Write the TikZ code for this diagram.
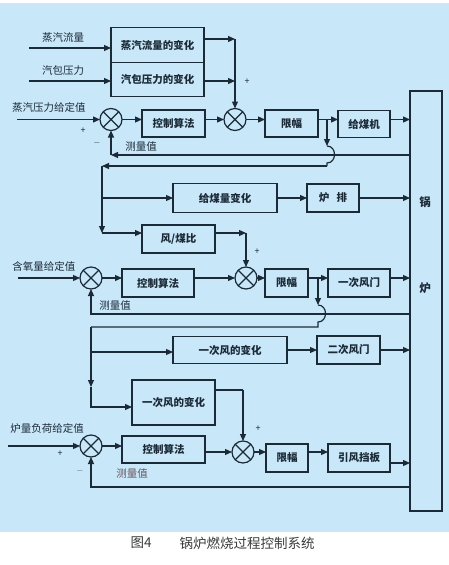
\documentclass[tikz,border=0pt]{standalone}
\usepackage{fontspec}
\setmainfont{Noto Sans CJK SC}
\usetikzlibrary{arrows.meta}
\definecolor{bgblue}{HTML}{C8E8FA}
\definecolor{lnedge}{HTML}{1C2A36}
\definecolor{capgray}{HTML}{3A3A3A}
\definecolor{fadetxt}{HTML}{6A5558}

\begin{document}
\begin{tikzpicture}[x=1pt, y=-1pt,
  blk/.style={rectangle, draw=lnedge, line width=1.2pt, minimum width=#1,
              minimum height=27pt, inner sep=0pt, outer sep=0pt, text=lnedge,
              font=\fontsize{10.5}{12}\selectfont\bfseries},
  sum/.style={circle, draw=lnedge, line width=1.2pt, minimum size=22pt,
              inner sep=0pt, outer sep=0pt,
              path picture={\draw[lnedge, line width=1.1pt]
                (path picture bounding box.north west) -- (path picture bounding box.south east)
                (path picture bounding box.north east) -- (path picture bounding box.south west);}},
  sig/.style={draw=lnedge, line width=1.2pt, -{Triangle[length=7pt, width=6pt]}},
  wire/.style={draw=lnedge, line width=1.2pt},
  lab/.style={font=\fontsize{10.5}{12}\selectfont, text=lnedge, inner sep=0pt},
  sgn/.style={font=\fontsize{9}{10}\selectfont, text=lnedge, inner sep=0pt},
  captext/.style={font=\fontsize{13.5}{15}\selectfont, text=capgray, inner sep=0pt},
]
\useasboundingbox (0,0) rectangle (449,565);
\fill[white] (0,0) rectangle (449,565);
\fill[bgblue] (0,3) rectangle (449,532);
% ---- feedforward boxes (steam flow, drum pressure)
\node[blk=93pt, minimum height=34.5pt] (chg_steam) at (157.5,45) {蒸汽流量的变化};
\node[blk=93pt, minimum height=34.5pt] (chg_drum) at (157.5,79.5) {汽包压力的变化};
\node[lab] (in_steam) at (63,38) {蒸汽流量};
\node[lab] (in_drum) at (63,71) {汽包压力};
\coordinate (s_steam) at (29,48);
\coordinate (s_drum) at (29,81);
\draw[sig] (s_steam) -- (s_steam -| chg_steam.west);
\draw[sig] (s_drum) -- (s_drum -| chg_drum.west);
% ---- loop 1: steam pressure -> coal feeder
\node[lab] (in_p) at (49,108) {蒸汽压力给定值};
\coordinate (s_p) at (17,119.5);
\node[sum] (sum_p) at (111,119.5) {};
\node[blk=63pt] (ctrl_p) at (173.5,123.5) {控制算法};
\node[sum] (sum_f) at (235,119.5) {};
\node[blk=53pt] (lim_f) at (291.5,123.5) {限幅};
\node[blk=52pt] (feeder) at (364,124) {给煤机};
\node[rectangle, draw=lnedge, line width=1.2pt, minimum width=32pt,
      minimum height=420pt, inner sep=0pt, outer sep=0pt] (boiler) at (426,301) {};
\node[lab, font=\fontsize{11.5}{13}\selectfont\bfseries] (boiler_a) at (425,202) {锅};
\node[lab, font=\fontsize{11.5}{13}\selectfont\bfseries] (boiler_b) at (425,288) {炉};
\draw[sig] (s_p) -- (sum_p.west);
\draw[sig] (sum_p.east) -- (sum_p.east -| ctrl_p.west);
\draw[sig] (ctrl_p.east |- sum_f) -- (sum_f.west);
\draw[sig] (sum_f.east) -- (sum_f.east -| lim_f.west);
\draw[sig] (lim_f.east |- sum_f) -- (feeder.west |- sum_f);
\draw[sig] (feeder.east |- sum_f) -- (boiler.west |- sum_f);
\coordinate (m_steam) at (235,39);
\coordinate (m_drum) at (235,81);
\draw[sig] (chg_steam.east |- m_steam) -- (m_steam);
\draw[sig] (chg_drum.east |- m_drum) -- (m_drum);
\draw[sig] (m_steam) -- (sum_f.north);
\node[sgn] (pl_f) at (247,82) {+};
\node[sgn] (pl_p) at (83,131) {+};
\node[sgn] (mi_p) at (97,143) {$-$};
\coordinate (fb_p) at (111,155);
\draw[sig] (boiler.west |- fb_p) -- (fb_p);
\draw[sig] (fb_p) -- (sum_p.south);
\node[lab] (meas_p) at (141,147) {测量值};
% ---- branch of coal feed, jumping the feedback line
\coordinate (br_f) at (327,119.5);
\coordinate (j_fa) at (327,146);
\coordinate (j_fb) at (327,163);
\coordinate (c_fa) at (327,166);
\coordinate (c_fb) at (102,166);
\coordinate (c_fc) at (102,233);
\coordinate (br_coal) at (102,198);
\draw[sig] (br_f) -- (j_fa);
\draw[wire] (j_fa) .. controls (337,146) and (337,163) .. (j_fb) -- (c_fa);
\draw[sig] (c_fa) -- (c_fb);
\draw[sig] (c_fb) -- (c_fc);
\node[blk=104pt, minimum height=29pt] (coal_chg) at (225,198) {给煤量变化};
\node[blk=52pt, minimum height=28pt] (grate) at (333,198) {炉\hspace{0.7em}排};
\node[blk=73pt, minimum height=28pt] (ratio) at (178.5,239) {风/煤比};
\draw[sig] (br_coal) -- (br_coal -| coal_chg.west);
\draw[sig] (coal_chg) -- (grate);
\draw[sig] (grate.east) -- (grate.east -| boiler.west);
\draw[sig] (c_fc) -- (c_fc -| ratio.west);
% ---- loop 2: oxygen -> primary air damper
\node[lab] (in_o2) at (44,266) {含氧量给定值};
\coordinate (s_o2) at (18,278);
\node[sum] (sum_o2) at (91,278) {};
\node[blk=72pt, minimum height=28pt] (ctrl_o2) at (158,283) {控制算法};
\node[sum] (sum_a) at (246,278) {};
\node[blk=43pt, minimum height=28pt] (lim_a) at (286.5,283) {限幅};
\node[blk=62pt, minimum height=28pt] (damper_a) at (359,283) {一次风门};
\coordinate (m_ratio) at (246,233);
\draw[sig] (ratio.east |- m_ratio) -- (m_ratio);
\draw[sig] (m_ratio) -- (sum_a.north);
\node[sgn] (pl_a) at (257,252) {+};
\draw[sig] (s_o2) -- (sum_o2.west);
\draw[sig] (sum_o2.east) -- (sum_o2.east -| ctrl_o2.west);
\draw[sig] (ctrl_o2.east |- sum_a) -- (sum_a.west);
\draw[sig] (sum_a.east) -- (sum_a.east -| lim_a.west);
\draw[sig] (lim_a.east |- sum_a) -- (damper_a.west |- sum_a);
\draw[sig] (damper_a.east |- sum_a) -- (boiler.west |- sum_a);
\coordinate (fb_o2) at (91,314);
\draw[sig] (boiler.west |- fb_o2) -- (fb_o2) -- (sum_o2.south);
\node[lab] (meas_o2) at (115,306) {测量值};
% ---- branch of primary air, jumping the feedback line
\coordinate (br_a) at (318,278);
\coordinate (j_aa) at (318,305);
\coordinate (j_ab) at (318,322);
\coordinate (c_aa) at (318,327);
\coordinate (c_ab) at (91,327);
\coordinate (c_ac) at (91,387);
\coordinate (c_ad) at (91,407);
\coordinate (br_air) at (91,352);
\draw[sig] (br_a) -- (j_aa);
\draw[wire] (j_aa) .. controls (328,305) and (328,322) .. (j_ab) -- (c_aa) -- (c_ab);
\draw[sig] (c_ab) -- (c_ac);
\node[blk=114pt, minimum height=27pt] (air_a) at (230,350) {一次风的变化};
\node[blk=63pt, minimum height=28pt] (sec_air) at (348.5,350) {二次风门};
\node[blk=83pt, minimum height=45pt] (air_b) at (173.5,402.5) {一次风的变化};
\draw[sig] (br_air) -- (br_air -| air_a.west);
\draw[sig] (air_a) -- (sec_air);
\draw[sig] (sec_air.east) -- (sec_air.east -| boiler.west);
\draw[sig] (c_ac) -- (c_ad) -- (c_ad -| air_b.west);
% ---- loop 3: furnace load -> induced draft damper
\node[lab] (in_load) at (47,428) {炉量负荷给定值};
\coordinate (s_load) at (8,446);
\node[sum] (sum_load) at (91,446) {};
\node[blk=83pt] (ctrl_load) at (163.5,449.5) {控制算法};
\node[sum] (sum_l) at (243,452) {};
\node[blk=42pt, minimum height=28pt] (lim_l) at (287,458) {限幅};
\node[blk=62pt, minimum height=28pt] (fan) at (359,458) {引风挡板};
\coordinate (m_air) at (243,390);
\draw[wire] (air_b.east |- m_air) -- (m_air);
\draw[sig] (m_air) -- (sum_l.north);
\node[sgn] (pl_l) at (258,429) {+};
\draw[sig] (s_load) -- (sum_load.west);
\draw[sig] (sum_load.east) -- (sum_load.east -| ctrl_load.west);
\draw[sig] (ctrl_load.east |- sum_l) -- (sum_l.west);
\draw[sig] (sum_l.east) -- (sum_l.east -| lim_l.west);
\draw[sig] (lim_l.east |- sum_l) -- (fan.west |- sum_l);
\draw[sig] ([yshift=-5pt]fan.east) -- ([yshift=-5pt]fan.east -| boiler.west);
\node[sgn] (pl_load) at (60,454) {+};
\node[sgn, text=fadetxt] (mi_load) at (80,471) {$-$};
\coordinate (fb_load) at (91,487);
\draw[sig] (boiler.west |- fb_load) -- (fb_load) -- (sum_load.south);
\node[lab, text=fadetxt] (meas_load) at (132,474) {测量值};
% ---- caption
\node[captext] (cap_no) at (141,543) {图4};
\node[captext] (cap_txt) at (247,543) {锅炉燃烧过程控制系统};
\end{tikzpicture}
\end{document}
